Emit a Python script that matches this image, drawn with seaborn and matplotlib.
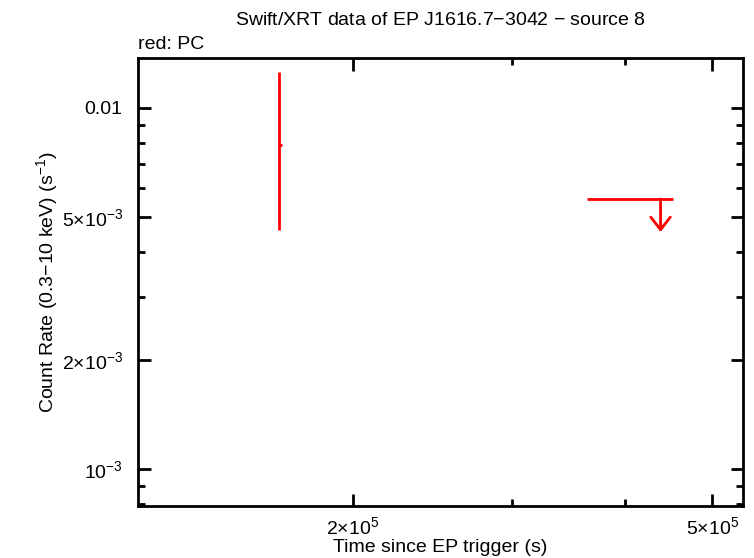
import numpy as np
import matplotlib
matplotlib.use("Agg")
import matplotlib.pyplot as plt
import seaborn as sns
from matplotlib.ticker import FixedLocator, NullFormatter

# --- data ---
pc_time = [1.656e5]
pc_time_lo = [0.004e5]
pc_time_hi = [0.012e5]
pc_rate = [7.9e-3]
pc_rate_lo = [7.9e-3 - 4.59e-3]
pc_rate_hi = [1.258e-2 - 7.9e-3]

ul_time = [4.38e5]
ul_time_lo = [4.38e5 - 3.63e5]
ul_time_hi = [4.52e5 - 4.38e5]
ul_rate = [5.6e-3]

xticks = [2e5, 5e5]
xticklabels = [r"$2{\times}10^{5}$", r"$5{\times}10^{5}$"]
yticks = [1e-3, 2e-3, 5e-3, 1e-2]
yticklabels = [r"$10^{-3}$", r"$2{\times}10^{-3}$", r"$5{\times}10^{-3}$", "0.01"]

sns.set_style("ticks")
plt.rcParams['font.family'] = ['Liberation Sans', 'DejaVu Sans']
plt.rcParams['mathtext.fontset'] = 'custom'
plt.rcParams['mathtext.rm'] = 'Liberation Sans'
plt.rcParams['mathtext.it'] = 'Liberation Sans'
for k in ['text.color', 'axes.labelcolor', 'xtick.color', 'ytick.color']:
    plt.rcParams[k] = 'black'

fig = plt.figure(figsize=(7.54, 5.58), dpi=100)
ax = fig.add_axes([0.183, 0.093, 0.802, 0.803])

ax.errorbar(pc_time, pc_rate, xerr=[pc_time_lo, pc_time_hi],
            yerr=[pc_rate_lo, pc_rate_hi], fmt='none', ecolor='red',
            elinewidth=2, capsize=0)
ax.errorbar(ul_time, ul_rate, xerr=[ul_time_lo, ul_time_hi], fmt='none',
            ecolor='red', elinewidth=2, capsize=0)
ax.annotate("", xy=(ul_time[0], ul_rate[0] * 0.81), xytext=(ul_time[0], ul_rate[0]),
            arrowprops=dict(arrowstyle='->,head_length=0.9,head_width=0.7',
                            color='red', lw=2, shrinkA=0, shrinkB=0))

ax.set_xscale('log')
ax.set_yscale('log')
ax.set_xlim(1.156e5, 5.4e5)
ax.set_ylim(7.9e-4, 1.375e-2)

ax.xaxis.set_major_locator(FixedLocator(xticks))
ax.set_xticklabels(xticklabels)
ax.xaxis.set_minor_locator(FixedLocator([3e5, 4e5]))
ax.xaxis.set_minor_formatter(NullFormatter())
ax.yaxis.set_major_locator(FixedLocator(yticks))
ax.set_yticklabels(yticklabels)
ax.yaxis.set_minor_locator(FixedLocator([8e-4, 9e-4, 3e-3, 4e-3, 6e-3, 7e-3, 8e-3, 9e-3]))
ax.yaxis.set_minor_formatter(NullFormatter())

ax.tick_params(which='major', direction='in', length=9, width=2,
               top=True, right=True, labelsize=14, pad=11, color='black')
ax.tick_params(axis='x', which='major', pad=7)
ax.tick_params(which='minor', direction='in', length=5, width=2,
               top=True, right=True, color='black')
for s in ax.spines.values():
    s.set_linewidth(2)
    s.set_color('black')

ax.set_xlabel("Time since EP trigger (s)", fontsize=14, labelpad=1)
ax.set_ylabel(r"Count Rate (0.3$-$10 keV) (s$^{-1}$)", fontsize=14, labelpad=1)

fig.text(0.584, 0.963, "Swift/XRT data of EP J1616.7$-$3042 $-$ source 8",
         ha='center', va='center', fontsize=14)
fig.text(0.183, 0.921, "red: PC", ha='left', va='center', fontsize=14)

fig.savefig("out.png", dpi=100, facecolor='white')
